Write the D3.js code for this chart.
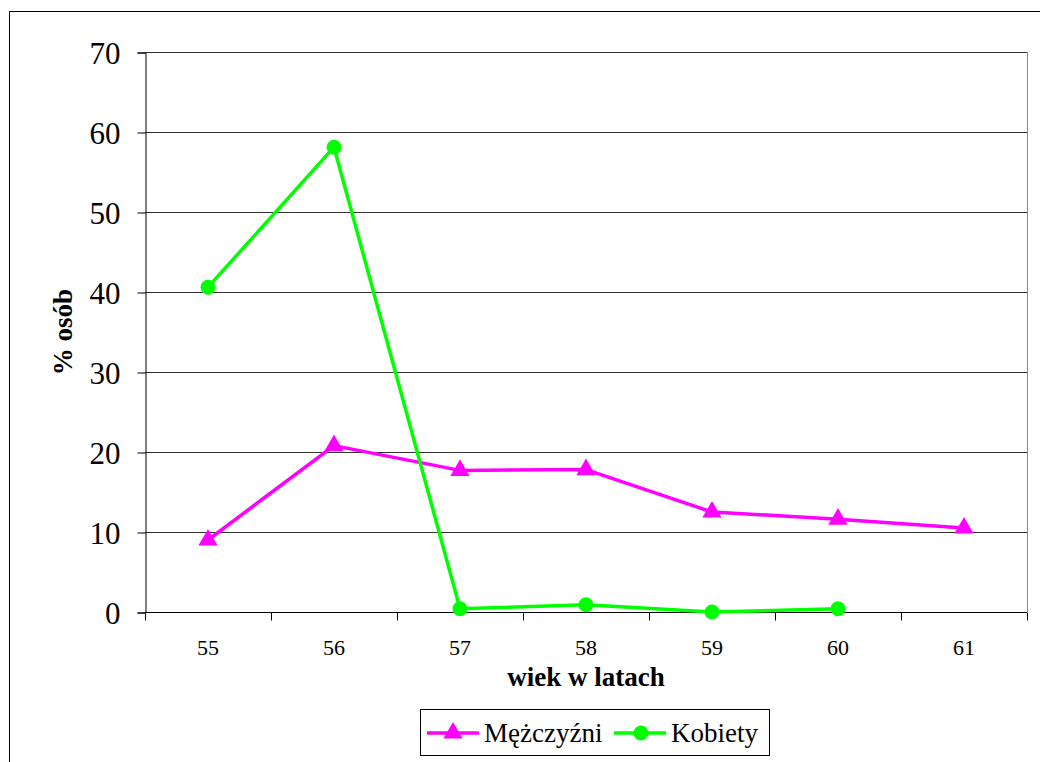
<!DOCTYPE html>
<html><head><meta charset="utf-8">
<script src="https://cdn.jsdelivr.net/npm/d3@7"></script>
<style>body{margin:0;background:#fff}svg{display:block}</style>
</head><body><svg id="c" width="1040" height="762"></svg>
<script>
const categories = ["55","56","57","58","59","60","61"];
const yTicks = [0,10,20,30,40,50,60,70];
const menValues = [9.0, 20.8, 17.7, 17.8, 12.5, 11.6, 10.5];
const womenValues = [40.6, 58.1, 0.4, 0.9, 0.0, 0.4, null];
const seriesNames = ["Mężczyźni","Kobiety"];
const seriesColors = ["#FF00FF","#00FF00"];

const FONT = "'Liberation Serif','Times New Roman',serif";
const svg = d3.select("#c");
const L=145, R=1027, T=52, B=612;
svg.append("rect").attr("x",9.5).attr("y",11.5).attr("width",1100).attr("height",900)
  .attr("fill","none").attr("stroke","#000").attr("stroke-width",1);

const x = d3.scaleBand().domain(categories).range([L,R]);
const y = d3.scaleLinear().domain([0,70]).range([B,T]);

svg.append("g").selectAll("line").data(yTicks.filter(d=>d>0)).join("line")
  .attr("x1",L).attr("x2",R).attr("y1",d=>Math.round(y(d))+0.5).attr("y2",d=>Math.round(y(d))+0.5)
  .attr("stroke","#333").attr("stroke-width",1);
svg.append("line").attr("x1",R+0.5).attr("x2",R+0.5).attr("y1",T).attr("y2",B).attr("stroke","#888");

const ya = svg.append("g").attr("transform",`translate(${L+0.5},0.5)`)
  .call(d3.axisLeft(y).tickValues(yTicks).tickSize(8).tickPadding(17));
ya.select(".domain").attr("stroke","#000");
ya.selectAll("line").attr("stroke","#000");
ya.selectAll("text").style("font-size","31px").style("font-family",FONT).attr("fill","#000").attr("dy","0.34em");

const xa = svg.append("g").attr("transform",`translate(0,${B+0.5})`);
xa.append("line").attr("x1",L).attr("x2",R).attr("stroke","#000");
const bounds = categories.map(c=>x(c)).concat([x(categories[categories.length-1])+x.bandwidth()]);
xa.selectAll("line.t").data(bounds).join("line").attr("class","t")
  .attr("x1",d=>Math.round(d)+0.5).attr("x2",d=>Math.round(d)+0.5).attr("y1",0).attr("y2",8).attr("stroke","#000");
xa.selectAll("text").data(categories).join("text")
  .attr("x",d=>x(d)+x.bandwidth()/2).attr("y",42.5).attr("text-anchor","middle")
  .style("font-size","22px").style("font-family",FONT).attr("fill","#000").text(d=>d);

svg.append("text").attr("x",586).attr("y",685.5).attr("text-anchor","middle")
  .style("font-size","27px").style("font-family",FONT).style("font-weight","bold").text("wiek w latach");
svg.append("text").attr("transform","translate(72,332) rotate(-90)").attr("text-anchor","middle")
  .style("font-size","27px").style("font-family",FONT).style("font-weight","bold").text("% osób");

const cx = d => x(d)+x.bandwidth()/2;
const tri = d3.symbol().type(d3.symbolTriangle).size(160);

function drawSeries(vals, color, marker){
  const pts = categories.map((c,i)=>({c, v:vals[i]})).filter(p=>p.v!==null);
  svg.append("path").datum(pts)
    .attr("d", d3.line().x(p=>cx(p.c)).y(p=>y(p.v)))
    .attr("fill","none").attr("stroke",color).attr("stroke-width",3.5).attr("stroke-linejoin","round");
  const g = svg.append("g");
  if(marker==="tri"){
    g.selectAll("path").data(pts).join("path").attr("d",tri)
      .attr("transform",p=>`translate(${cx(p.c)},${y(p.v)})`).attr("fill",color);
  } else {
    g.selectAll("circle").data(pts).join("circle").attr("cx",p=>cx(p.c)).attr("cy",p=>y(p.v))
      .attr("r",7.5).attr("fill",color);
  }
}
drawSeries(menValues, seriesColors[0], "tri");
drawSeries(womenValues, seriesColors[1], "circ");

const lg = svg.append("g");
lg.append("rect").attr("x",420.5).attr("y",709.5).attr("width",349).attr("height",46)
  .attr("fill","#fff").attr("stroke","#000");
const items = [{n:seriesNames[0],c:seriesColors[0],m:"tri",x0:427},{n:seriesNames[1],c:seriesColors[1],m:"circ",x0:614}];
items.forEach(it=>{
  lg.append("line").attr("x1",it.x0).attr("x2",it.x0+52).attr("y1",733).attr("y2",733)
    .attr("stroke",it.c).attr("stroke-width",3.5);
  if(it.m==="tri") lg.append("path").attr("d",tri).attr("transform",`translate(${it.x0+26},733)`).attr("fill",it.c);
  else lg.append("circle").attr("cx",it.x0+27).attr("cy",733).attr("r",7.5).attr("fill",it.c);
  lg.append("text").attr("x",it.x0+57).attr("y",742).style("font-size","27px").style("font-family",FONT).text(it.n);
});
</script></body></html>
